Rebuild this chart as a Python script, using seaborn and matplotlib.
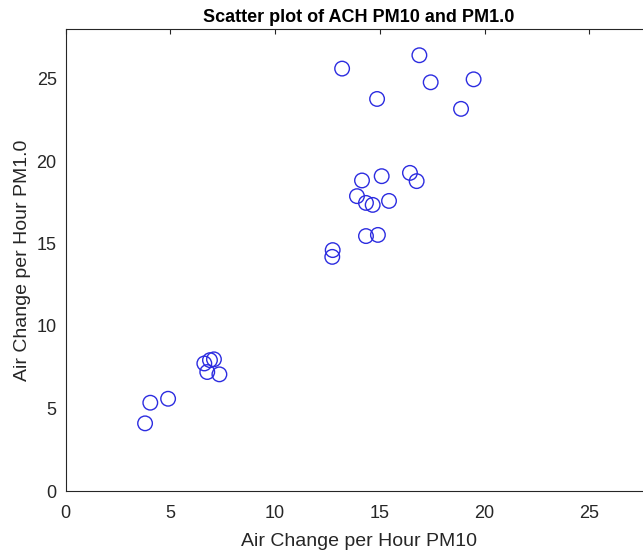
import matplotlib
matplotlib.use("Agg")
import matplotlib.pyplot as plt
import seaborn as sns
import pandas as pd

ach_pm10 = [3.79, 4.04, 4.89, 6.62, 6.89, 7.08, 6.76, 7.34,
            12.75, 12.73, 14.34, 14.91, 14.15, 15.09, 16.44, 16.76,
            13.91, 14.34, 14.66, 15.44,
            13.20, 16.89, 17.43, 19.48, 14.87, 18.88]
ach_pm1 = [4.10, 5.35, 5.59, 7.73, 7.93, 7.98, 7.21, 7.07,
           14.60, 14.19, 15.45, 15.52, 18.82, 19.08, 19.28, 18.78,
           17.87, 17.46, 17.34, 17.58,
           25.60, 26.41, 24.77, 24.95, 23.76, 23.16]
tick_values = [0, 5, 10, 15, 20, 25]

df = pd.DataFrame({"pm10": ach_pm10, "pm1": ach_pm1})

sns.set_style("white")
plt.rcParams['font.family'] = ['Liberation Sans', 'DejaVu Sans']

W, H = 643, 553
fig = plt.figure(figsize=(W / 100, H / 100), dpi=100)
x0, y0 = 65.7, 491.0
ax_w = 28 * 20.94
ax_h = 491.0 - 29.0
ax = fig.add_axes([x0 / W, (H - y0) / H, ax_w / W, ax_h / H])

sns.scatterplot(data=df, x="pm10", y="pm1", ax=ax, marker="o", s=110,
                facecolors="none", edgecolors="#2c2ce0", linewidth=1.0)

ax.set_xlim(0, 28)
ax.set_ylim(0, 28)
ax.set_xticks(tick_values)
ax.set_yticks(tick_values)
dark = "#262626"
for s in ax.spines.values():
    s.set_color(dark)
    s.set_linewidth(0.8)
ax.tick_params(direction="in", length=3.5, width=0.8, color=dark,
               labelcolor=dark, labelsize=13, top=True, right=True)
ax.tick_params(axis="x", pad=10)
ax.tick_params(axis="y", pad=6.5)
ax.set_xlabel("Air Change per Hour PM10", fontsize=14, color=dark, labelpad=8)
ax.set_ylabel("Air Change per Hour PM1.0", fontsize=14, color=dark, labelpad=4)
ax.set_title("Scatter plot of ACH PM10 and PM1.0", fontsize=13, fontweight="bold",
             color="black", pad=5)

fig.savefig("out.png", dpi=100)
